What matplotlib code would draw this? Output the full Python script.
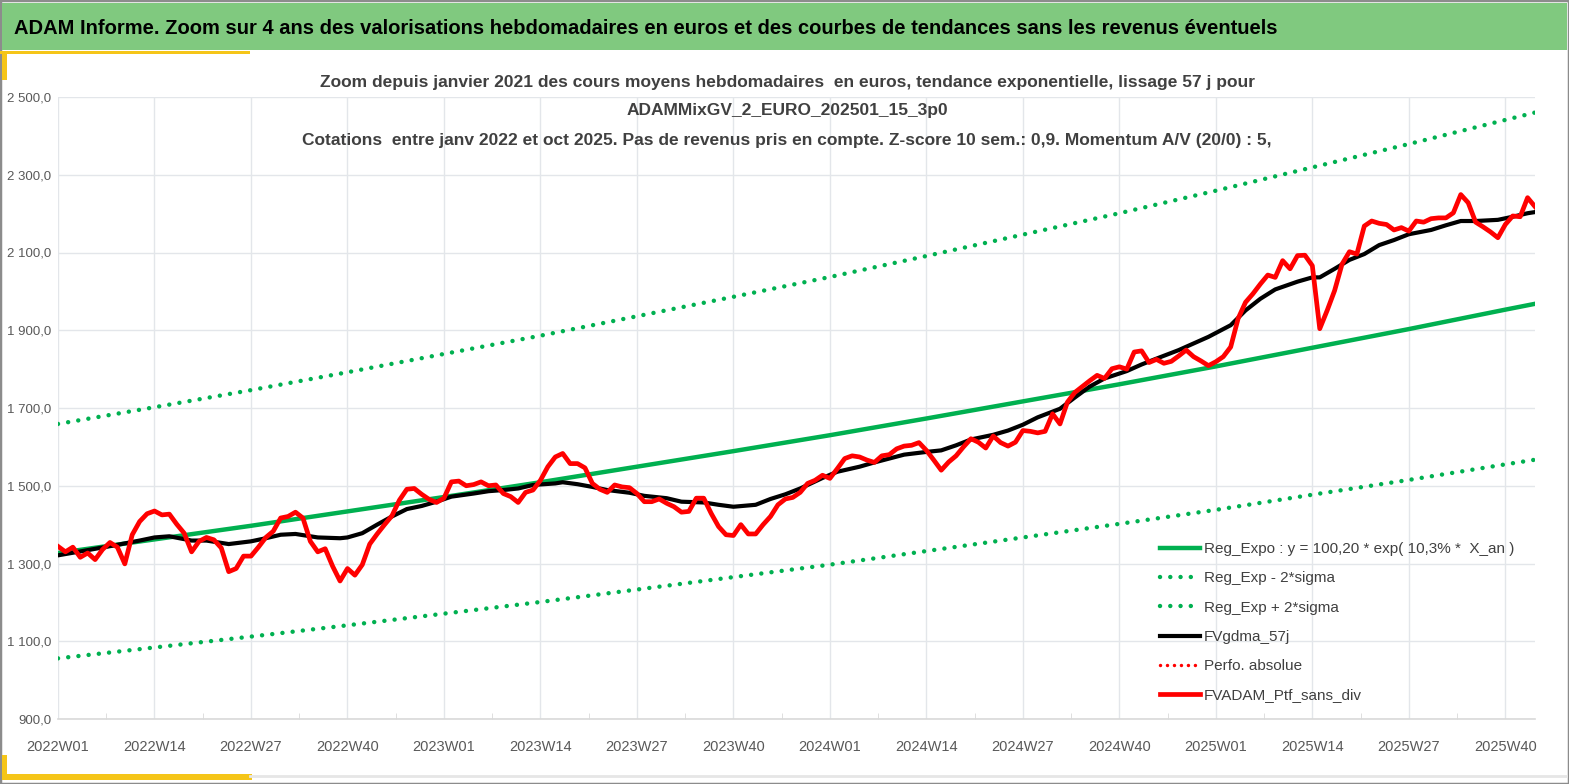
import numpy as np
import matplotlib
matplotlib.use('Agg')
import matplotlib.pyplot as plt
from matplotlib.patches import Rectangle
from matplotlib.lines import Line2D

plt.rcParams['font.family'] = ['Liberation Sans Narrow', 'Liberation Sans', 'DejaVu Sans']

# weekly valuations, 2022W01 .. 2025W44 (index = week number since 2022W01)
red_vals = [1344, 1330, 1342, 1316, 1327, 1310, 1336, 1354, 1342, 1299,
            1374, 1408, 1428, 1435, 1425, 1427, 1401, 1378, 1330, 1357,
            1367, 1361, 1340, 1279, 1287, 1319, 1319, 1342, 1367, 1383,
            1417, 1421, 1432, 1417, 1357, 1330, 1338, 1293, 1255, 1287,
            1270, 1297, 1350, 1376, 1400, 1423, 1463, 1491, 1493, 1478,
            1465, 1457, 1468, 1510, 1512, 1500, 1503, 1510, 1500, 1502,
            1480, 1472, 1457, 1483, 1489, 1514, 1549, 1574, 1583, 1557,
            1557, 1546, 1506, 1491, 1483, 1502, 1497, 1495, 1480, 1459,
            1459, 1466, 1455, 1446, 1432, 1434, 1468, 1468, 1429, 1395,
            1374, 1372, 1400, 1376, 1376, 1400, 1421, 1451, 1466, 1470,
            1483, 1506, 1514, 1527, 1519, 1544, 1570, 1577, 1574, 1566,
            1560, 1577, 1580, 1595, 1602, 1604, 1611, 1591, 1566, 1540,
            1561, 1577, 1600, 1621, 1612, 1597, 1628, 1611, 1602, 1612,
            1642, 1640, 1636, 1640, 1685, 1659, 1715, 1740, 1755, 1770,
            1784, 1776, 1801, 1806, 1800, 1844, 1847, 1817, 1825, 1815,
            1820, 1834, 1849, 1832, 1821, 1809, 1819, 1832, 1857, 1930,
            1972, 1994, 2019, 2042, 2036, 2079, 2058, 2092, 2093, 2066,
            1904, 1951, 2002, 2070, 2102, 2096, 2168, 2181, 2175, 2172,
            2158, 2164, 2155, 2181, 2178, 2187, 2189, 2189, 2202, 2249,
            2228, 2178, 2166, 2153, 2138, 2172, 2194, 2192, 2241, 2218]

# smoothed curve, read at sample weeks
gdma_weeks = [0, 3, 8, 11, 13, 15, 18, 20, 23, 26, 28, 30, 32, 35, 38, 39, 41, 43,
              45, 47, 49, 51, 53, 56, 58, 60, 62, 64, 67, 68, 70, 72, 74, 77, 79,
              82, 84, 87, 89, 91, 94, 96, 98, 100, 101, 103, 105, 108, 110, 112,
              114, 117, 119, 121, 123, 126, 128, 130, 132, 135, 137, 139, 141,
              144, 146, 148, 151, 153, 155, 158, 160, 162, 164, 167, 169, 170,
              172, 174, 176, 178, 180, 182, 185, 187, 189, 191, 194, 196, 198, 199]
gdma_vals = [1321, 1331, 1348, 1359, 1367, 1370, 1359, 1359, 1350, 1357, 1365, 1374,
             1376, 1367, 1365, 1367, 1378, 1400, 1421, 1440, 1448, 1459, 1472, 1480,
             1486, 1489, 1493, 1502, 1506, 1509, 1504, 1497, 1489, 1482, 1474, 1468,
             1459, 1457, 1451, 1446, 1451, 1466, 1478, 1493, 1502, 1520, 1536, 1549,
             1560, 1570, 1580, 1587, 1591, 1604, 1619, 1631, 1642, 1657, 1676, 1698,
             1727, 1755, 1776, 1795, 1812, 1827, 1849, 1866, 1883, 1913, 1951, 1981,
             2005, 2025, 2036, 2036, 2058, 2081, 2096, 2119, 2132, 2147, 2158, 2170,
             2181, 2181, 2184, 2192, 2201, 2204]

# trend lines read at the labelled weeks
trend_weeks = [0, 13, 26, 39, 52, 65, 78, 91, 104, 117, 130, 143, 156, 169, 182, 195, 199]
trend_vals = [1327, 1362, 1397, 1434, 1471, 1509, 1549, 1589, 1630, 1673, 1717, 1761,
              1807, 1855, 1903, 1953, 1968]
upper_vals = [1659, 1702, 1746, 1792, 1839, 1886, 1936, 1986, 2037, 2091, 2146, 2201,
              2259, 2319, 2379, 2441, 2460]
lower_vals = [1056, 1084, 1112, 1141, 1171, 1201, 1233, 1265, 1297, 1332, 1367, 1402,
              1438, 1477, 1515, 1555, 1567]

tick_weeks = [0, 13, 26, 39, 52, 65, 78, 91, 104, 117, 130, 143, 156, 169, 182, 195]
tick_labels = ['2022W01', '2022W14', '2022W27', '2022W40', '2023W01', '2023W14',
               '2023W27', '2023W40', '2024W01', '2024W14', '2024W27', '2024W40',
               '2025W01', '2025W14', '2025W27', '2025W40']

GREEN = '#00b050'
W, H = 1569, 784
fig = plt.figure(figsize=(W / 100, H / 100), dpi=100)

# frame and banner
fig.patches.append(Rectangle((0, 0), 1, 1, transform=fig.transFigure, fill=False,
                             edgecolor='#8c8c8c', lw=2.5))
fig.patches.append(Rectangle((2 / W, 1 - 50 / H), 1 - 4 / W, 47 / H, transform=fig.transFigure,
                             facecolor='#80c97f', edgecolor='none'))
fig.patches.append(Rectangle((0, 1 - 54 / H), 250 / W, 3 / H, transform=fig.transFigure,
                             facecolor='#f5c518', edgecolor='none'))
fig.patches.append(Rectangle((2 / W, 1 - 80 / H), 5 / W, 28 / H, transform=fig.transFigure,
                             facecolor='#f5c518', edgecolor='none'))
fig.patches.append(Rectangle((2 / W, 1 - 780 / H), 250 / W, 6 / H, transform=fig.transFigure,
                             facecolor='#f5c518', edgecolor='none'))
fig.patches.append(Rectangle((2 / W, 1 - 780 / H), 5 / W, 25 / H, transform=fig.transFigure,
                             facecolor='#f5c518', edgecolor='none'))
fig.add_artist(Line2D([250 / W, 1 - 3 / W], [1 - 776 / H, 1 - 776 / H], color='#e6e6e6', lw=2))

fig.text(14 / W, 1 - 28 / H,
         'ADAM Informe. Zoom sur 4 ans des valorisations hebdomadaires en euros et des courbes de tendances sans les revenus éventuels',
         fontsize=14.5, fontweight='bold', color='black', va='center', ha='left')

sub_col = '#404040'
fig.text(787 / W, 1 - 82 / H,
         'Zoom depuis janvier 2021 des cours moyens hebdomadaires  en euros, tendance exponentielle, lissage 57 j pour',
         fontsize=12.5, fontweight='bold', color=sub_col, ha='center', va='center')
fig.text(787 / W, 1 - 111 / H, 'ADAMMixGV_2_EURO_202501_15_3p0',
         fontsize=12.5, fontweight='bold', color=sub_col, ha='center', va='center')
fig.text(787 / W, 1 - 140 / H,
         'Cotations  entre janv 2022 et oct 2025. Pas de revenus pris en compte. Z-score 10 sem.: 0,9. Momentum A/V (20/0) : 5,',
         fontsize=12.5, fontweight='bold', color=sub_col, ha='center', va='center')

ax = fig.add_axes([58 / W, 1 - 719 / H, (1535 - 58) / W, (719 - 97) / H])
ax.set_xlim(0, 199)
ax.set_ylim(900, 2500)
ax.set_zorder(1)
ax.patch.set_alpha(0)

weeks = np.arange(len(red_vals))
ax.plot(trend_weeks, lower_vals, color=GREEN, lw=3.2, ls=(0, (0.01, 2.3)),
        dash_capstyle='round', label='Reg_Exp - 2*sigma')
ax.plot(trend_weeks, upper_vals, color=GREEN, lw=3.2, ls=(0, (0.01, 2.3)),
        dash_capstyle='round', label='Reg_Exp + 2*sigma')
ax.plot(trend_weeks, trend_vals, color=GREEN, lw=3.2,
        label='Reg_Expo : y = 100,20 * exp( 10,3% *  X_an )')
ax.plot(gdma_weeks, gdma_vals, color='black', lw=3.0, label='FVgdma_57j')
ax.plot([], [], color='red', lw=2.5, ls=(0, (0.01, 2.0)), dash_capstyle='round',
        label='Perfo. absolue')
ax.plot(weeks, red_vals, color='#ff0000', lw=3.4, label='FVADAM_Ptf_sans_div')

ax.set_yticks(np.arange(900, 2501, 200))
ax.set_yticklabels([f'{int(v):,}'.replace(',', ' ') + ',0' for v in np.arange(900, 2501, 200)])
ax.set_xticks(tick_weeks)
ax.set_xticklabels(tick_labels)
ax.set_xticks([w + 6.5 for w in tick_weeks[:-1]], minor=True)
ax.grid(True, which='major', color='#e3e6ea', lw=1.0)
ax.set_axisbelow(True)
for s in ['top', 'right', 'left']:
    ax.spines[s].set_visible(False)
ax.spines['bottom'].set_color('#d9d9d9')
ax.spines['bottom'].set_linewidth(1.2)
ax.tick_params(axis='y', length=0, pad=5, labelsize=9.5, labelcolor='#595959')
ax.tick_params(axis='x', which='major', length=0, pad=15, labelsize=10.5, labelcolor='#595959')
ax.tick_params(axis='x', which='minor', length=4, direction='in', color='#d9d9d9')

h, l = ax.get_legend_handles_labels()
order = [2, 0, 1, 3, 4, 5]
leg = ax.legend([h[i] for i in order], [l[i] for i in order], loc='upper left',
                bbox_to_anchor=(1154 / W, 1 - 536 / H), bbox_transform=fig.transFigure,
                frameon=False, fontsize=11, handlelength=2.6, handletextpad=0.25,
                labelspacing=1.0, borderaxespad=0)
for t in leg.get_texts():
    t.set_color('#404040')

fig.savefig('out.png', dpi=100)
